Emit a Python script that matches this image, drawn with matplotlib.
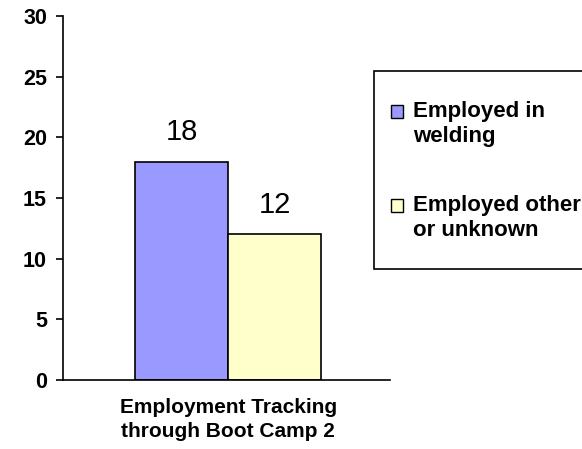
import matplotlib
matplotlib.use("Agg")
import matplotlib.pyplot as plt
from matplotlib.patches import Patch, Rectangle
from matplotlib.legend_handler import HandlerPatch

plt.rcParams['font.family'] = ['Liberation Sans', 'DejaVu Sans']

category = "Employment Tracking\nthrough Boot Camp 2"
series = ["Employed in\nwelding", "Employed other\nor unknown"]
values = [18, 12]
colors = ["#9999FF", "#FFFFCC"]
yticks = [0, 5, 10, 15, 20, 25, 30]

W, H = 582, 449
fig = plt.figure(figsize=(W / 100, H / 100), dpi=100)
ax = fig.add_axes([63 / W, 1 - 380 / H, (390 - 63) / W, (380 - 16) / H])

width = 0.284
center = 0.505
offsets = [-width / 2, width / 2]
for v, c, off, name in zip(values, colors, offsets, series):
    ax.bar(center + off, v, width=width, color=c, edgecolor="black", linewidth=1.2, label=name)
    ax.text(center + off, v + 1.3, str(v), ha="center", va="bottom", fontsize=21)

ax.set_xlim(0, 1)
ax.set_ylim(0, 30)
ax.set_yticks(yticks)
ax.set_yticklabels([str(t) for t in yticks], fontsize=15.5, fontweight="bold")
ax.set_xticks([center])
ax.set_xticklabels([category], fontsize=15, fontweight="bold", linespacing=1.3)
ax.tick_params(axis="x", length=0, pad=13)
ax.tick_params(axis="y", length=5, width=1.2, direction="out", pad=6.5)
for s in ["top", "right"]:
    ax.spines[s].set_visible(False)
ax.spines["left"].set_linewidth(1.2)
ax.spines["bottom"].set_linewidth(1.2)

# legend frame (clipped at right edge like the reference)
frame = Rectangle((374 / W, 1 - 269 / H), 260 / W, 198 / H, transform=fig.transFigure,
                  facecolor="white", edgecolor="black", linewidth=1.2)
fig.patches.append(frame)

LEG_FS = 16


def top_patch(legend, orig_handle, xdescent, ydescent, width, height, fontsize):
    return Rectangle((-xdescent, -ydescent + 0.58 * fontsize), width, height)


handles = [Patch(facecolor=c, edgecolor="black", linewidth=1) for c in colors]
leg = fig.legend(handles, series, loc="upper left",
                 bbox_to_anchor=(391 / W, 1 - 101 / H),
                 prop={"weight": "bold", "size": LEG_FS},
                 frameon=False,
                 handler_map={Patch: HandlerPatch(patch_func=top_patch)},
                 handlelength=0.54, handleheight=0.54, handletextpad=0.45,
                 labelspacing=2.15, borderpad=0, borderaxespad=0)
for t in leg.get_texts():
    t.set_linespacing(1.26)

fig.savefig("out.png", dpi=100)
